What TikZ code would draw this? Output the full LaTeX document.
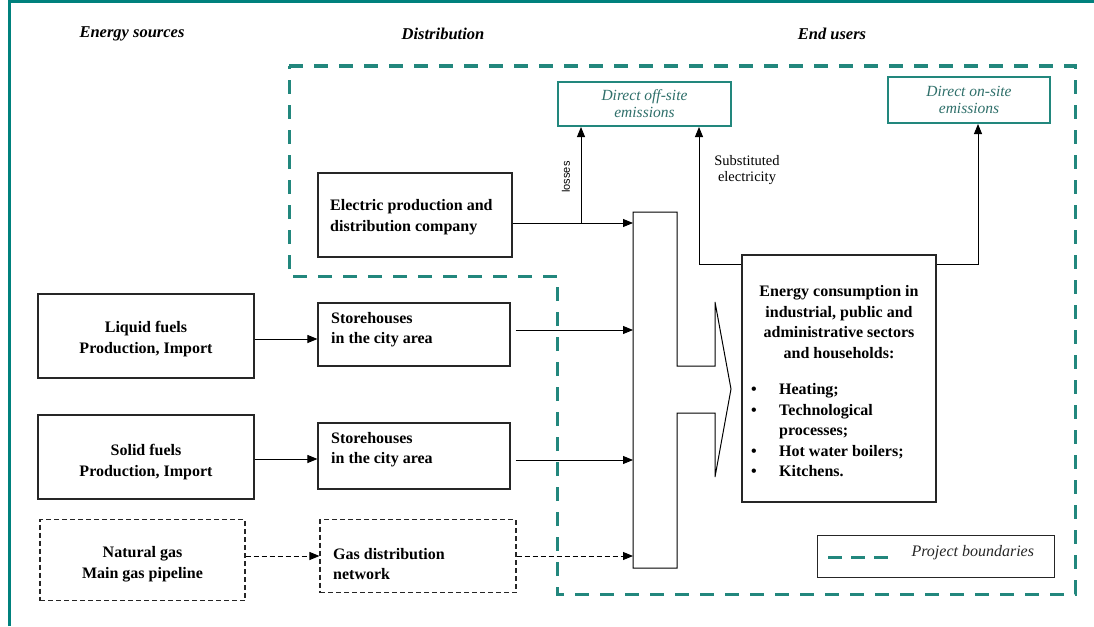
\documentclass[tikz,border=0pt]{standalone}
\usepackage{fontspec}
\setmainfont{Liberation Serif}
\newfontfamily\sansf{Liberation Sans}
\usetikzlibrary{arrows.meta}
\definecolor{frameteal}{HTML}{00817D}
\definecolor{bteal}{HTML}{22877D}
\definecolor{tteal}{HTML}{2F6F6A}
\tikzset{
  box/.style={draw=black!85, line width=1.1pt, inner sep=0pt},
  dbox/.style={box, dash pattern=on 5pt off 3pt},
  btxt/.style={font=\bfseries\fontsize{16}{20.5}\selectfont, inner sep=0pt},
  ebox/.style={draw=bteal, line width=2pt, inner sep=0pt, font=\itshape\fontsize{15.5}{17}\selectfont, text=tteal, align=center},
  arr/.style={-{Triangle[length=10pt,width=8pt]}, line width=0.9pt},
  darr/.style={arr, dash pattern=on 5pt off 3pt},
  bound/.style={draw=bteal, line width=3pt, dash pattern=on 14pt off 11pt},
  head/.style={font=\bfseries\itshape\fontsize{16.5}{19}\selectfont}
}
\begin{document}
\begin{tikzpicture}[x=1pt,y=-1pt]
\useasboundingbox (0,0) rectangle (1094,626);
% frame
\draw[frameteal, line width=3pt] (9,626) -- (9,2) -- (1094,2);
% headers
\node[head] (h1) at (132,34) {Energy sources};
\node[head] (h2) at (443,34) {Distribution};
\node[head] (h3) at (832,34) {End users};
% project boundary
\draw[bound] (289,66) -- (1075,66) -- (1075,594) -- (557,594) -- (557,276) -- (289,276) -- cycle;
% emission boxes
\node[ebox, minimum width=173pt, minimum height=44pt] (offsite) at (644.5,104) {Direct off-site\\emissions};
\node[ebox, minimum width=162pt, minimum height=46pt] (onsite) at (969,100) {Direct on-site\\emissions};
% electric company
\node[box, minimum width=194pt, minimum height=84pt] (elec) at (415,215) {};
\node[btxt, align=left, anchor=west] (elect) at (330,217) {Electric production and\\distribution company};
% sources
\node[box, minimum width=216pt, minimum height=84pt] (liq) at (146,336) {};
\node[btxt, align=center] (liqt) at (146,339) {Liquid fuels\\Production, Import};
\node[box, minimum width=216pt, minimum height=84pt] (sol) at (146,457) {};
\node[btxt, align=center] (solt) at (146,462) {Solid fuels\\Production, Import};
\node[dbox, minimum width=205pt, minimum height=81pt] (gas) at (142.5,560) {};
\node[btxt, align=center] (gast) at (142.5,564) {Natural gas\\Main gas pipeline};
% distribution
\node[box, minimum width=192pt, minimum height=63pt] (st1) at (414,334.5) {};
\node[btxt, align=left, anchor=west] (st1t) at (331,329.5) {Storehouses\\in the city area};
\node[box, minimum width=192pt, minimum height=66pt] (st2) at (414,456) {};
\node[btxt, align=left, anchor=west] (st2t) at (331,449.5) {Storehouses\\in the city area};
\node[dbox, minimum width=196pt, minimum height=73pt] (gd) at (418,556) {};
\node[btxt, align=left, anchor=west] (gdt) at (333,564) {Gas distribution\\network};
% collector bar
\draw[line width=1pt] (633,212) -- (677,212) -- (677,366) -- (715,366) -- (715,302) -- (731,389) -- (715,477) -- (715,413) -- (677,413) -- (677,568) -- (633,568) -- cycle;
\coordinate (b1) at (633,223);
\coordinate (b2) at (633,330);
\coordinate (b3) at (633,460);
\coordinate (b4) at (633,556);
\coordinate (j) at (581,223);
\coordinate (a1) at (0,339);
\coordinate (a2) at (0,459);
% consumption box
\node[box, minimum width=194pt, minimum height=247pt] (cons) at (839,378.5) {};
\node[btxt, align=center] (consh) at (839,322) {Energy consumption in\\industrial, public and\\administrative sectors\\and households:};
\node[btxt, anchor=north west] (consl) at (751,380) {\begin{tabular}{@{}p{28pt}@{}l@{}}
\textbullet & Heating;\\
\textbullet & Technological\\
 & processes;\\
\textbullet & Hot water boilers;\\
\textbullet & Kitchens.
\end{tabular}};
% connectors
\draw[arr] (elec.east |- b1) -- (b1);
\draw[arr] (j) -- ([xshift=-63.5pt]offsite.south);
\node[rotate=90, font=\sansf\fontsize{11}{13}\selectfont] (loss) at (566,177) {losses};
\draw[arr] ([yshift=-10pt]cons.north west) -| ([xshift=54.5pt]offsite.south);
\node[font=\fontsize{14.5}{16.5}\selectfont, align=center] (subst) at (747,170) {Substituted\\electricity};
\draw[arr] ([yshift=-10pt]cons.north east) -| ([xshift=9pt]onsite.south);
\draw[arr] (liq.east |- a1) -- (st1.west |- a1);
\draw[arr] (sol.east |- a2) -- (st2.west |- a2);
\draw[darr] (gas.east |- b4) -- (gd.west |- b4);
\draw[arr] ([xshift=5pt]st1.east |- b2) -- (b2);
\draw[arr] ([xshift=5pt]st2.east |- b3) -- (b3);
\draw[darr] (gd.east |- b4) -- (b4);
% legend
\node[draw=black!85, line width=1pt, minimum width=237pt, minimum height=42pt] (legend) at (935.5,556) {};
\draw[bound, dash pattern=on 14pt off 9pt] (828,557) -- (888,557);
\node[font=\itshape\fontsize{16}{18}\selectfont, anchor=west, text=black!85] (legt) at (908,553) {Project boundaries};
\end{tikzpicture}
\end{document}
